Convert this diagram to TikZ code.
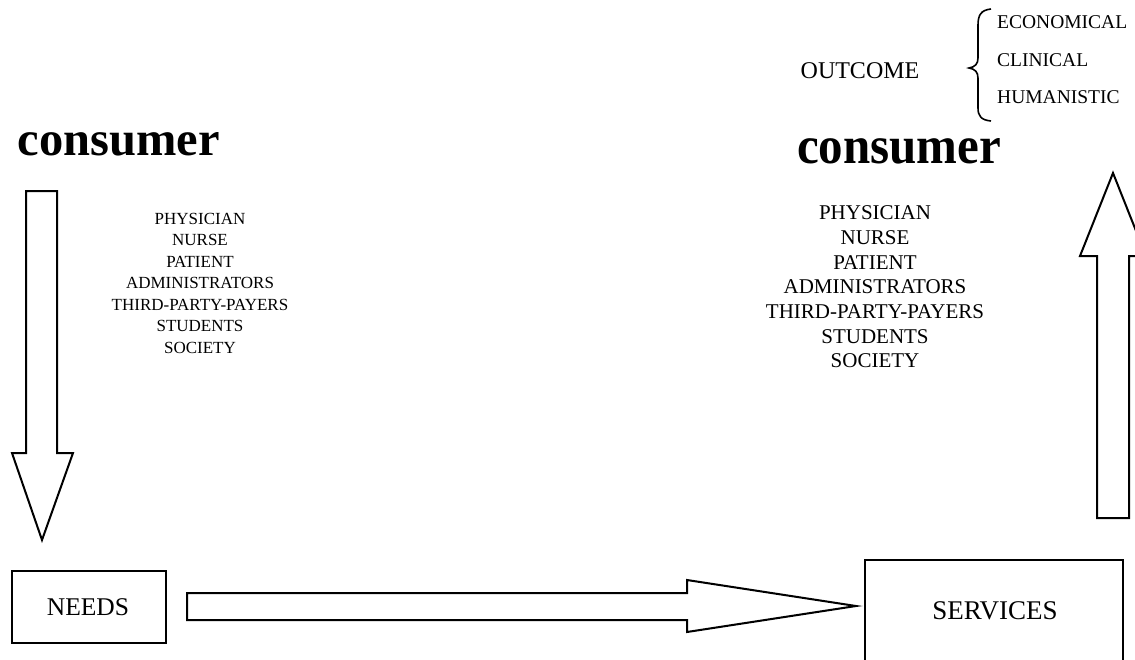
\documentclass[tikz,border=0pt]{standalone}
\usepackage{fontspec}
\setmainfont{Liberation Serif}
\newcommand{\fsz}[2]{\fontsize{#1}{#2}\selectfont}
\tikzset{
  blockarrow/.style={draw, line width=2pt, line join=miter, fill=white},
  labelbox/.style={draw, line width=2pt, inner sep=0pt},
  listtext/.style={align=center, inner sep=0pt},
  headword/.style={inner sep=0pt}
}
\begin{document}
\begin{tikzpicture}[x=1pt,y=-1pt]
\useasboundingbox (0,0) rectangle (1135,659);

% consumer headings
\node[headword] (consL) at (119,144) {\resizebox{202pt}{23pt}{\bfseries consumer}};
\node[headword] (consR) at (899,151) {\resizebox{204pt}{25pt}{\bfseries consumer}};

% consumer lists
\node[listtext, font=\fsz{17}{21.5}] (listL) at (200,283)
  {PHYSICIAN\\NURSE\\PATIENT\\ADMINISTRATORS\\THIRD-PARTY-PAYERS\\STUDENTS\\SOCIETY};
\node[listtext, font=\fsz{21}{24.7}] (listR) at (875,287)
  {PHYSICIAN\\NURSE\\PATIENT\\ADMINISTRATORS\\THIRD-PARTY-PAYERS\\STUDENTS\\SOCIETY};

% outcome with its brace
\node[headword, font=\fsz{24}{24}] (outcome) at (860,71) {OUTCOME};
\draw[line width=1.6pt] (991,9) .. controls (981,10) and (978,15) .. (978,25)
  -- (978,58) .. controls (978,64) and (975,67) .. (969,68)
  .. controls (975,69) and (978,72) .. (978,78)
  -- (978,108) .. controls (978,116) and (981,120) .. (991,121);
\node[headword, anchor=west, font=\fsz{19.5}{19.5}] (econ) at (997,22) {ECONOMICAL};
\node[headword, anchor=west, font=\fsz{19.5}{19.5}] (clin) at (997,60) {CLINICAL};
\node[headword, anchor=west, font=\fsz{19.5}{19.5}] (human) at (997,97) {HUMANISTIC};

% down arrow into NEEDS
\draw[blockarrow] (26,191) -- (57,191) -- (57,453) -- (73,453) -- (42,540)
  -- (12,453) -- (26,453) -- cycle;

% NEEDS box
\draw[labelbox] (12,571) rectangle (166,643);
\node[headword, font=\fsz{25.5}{25.5}] (needs) at (88,607) {NEEDS};

% arrow NEEDS -> SERVICES
\draw[blockarrow] (187,593) -- (687,593) -- (687,580) -- (856,606)
  -- (687,632) -- (687,620) -- (187,620) -- cycle;

% SERVICES box
\draw[labelbox] (865,675) -- (865,560) -- (1123,560) -- (1123,675);
\node[headword, font=\fsz{27}{27}] (services) at (995,611) {SERVICES};

% up arrow out of SERVICES
\draw[blockarrow] (1097,518) -- (1129,518) -- (1129,256) -- (1146,256)
  -- (1113,173) -- (1080,256) -- (1097,256) -- cycle;
\end{tikzpicture}
\end{document}
